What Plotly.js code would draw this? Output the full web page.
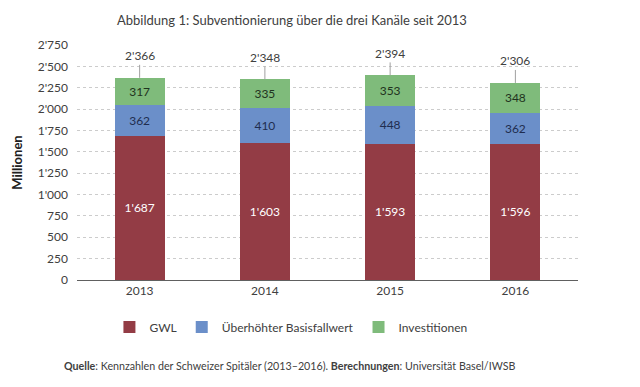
<!DOCTYPE html>
<html>
<head>
<meta charset="utf-8">
<script src="https://cdn.plot.ly/plotly-3.0.1.min.js"></script>
<style>html,body{margin:0;padding:0;background:#fff;}#chart{width:640px;height:387px;}</style>
</head>
<body>
<div id="chart"></div>
<script>
const years = ['2013', '2014', '2015', '2016'];
const gwl = [1687, 1603, 1593, 1596];
const basisfallwert = [362, 410, 448, 362];
const investitionen = [317, 335, 353, 348];
const totals = [2366, 2348, 2394, 2306];
const seriesNames = ['GWL', 'Überhöhter Basisfallwert', 'Investitionen'];
const yTicks = [0, 250, 500, 750, 1000, 1250, 1500, 1750, 2000, 2250, 2500, 2750];

const FONT = 'Lato, "Open Sans", sans-serif';
const colors = ['#933c45', '#6b8fc9', '#7fbb7b'];
const textColors = ['#ffffff', '#1f2d4f', '#1f3320'];

function fmt(v) {
  const s = String(v);
  return s.length > 3 ? s.slice(0, s.length - 3) + "'" + s.slice(s.length - 3) : s;
}

const vals = [gwl, basisfallwert, investitionen];
const traces = vals.map((v, i) => ({
  type: 'bar',
  name: seriesNames[i],
  x: years,
  y: v,
  text: v.map(fmt),
  textposition: 'inside',
  insidetextanchor: 'middle',
  textangle: 0,
  textfont: {family: FONT, size: 12, color: textColors[i]},
  marker: {color: colors[i], line: {width: 0}},
  width: 0.4,
  hoverinfo: 'skip'
}));

const annotations = totals.map((t, i) => ({
  x: i, y: t, xref: 'x', yref: 'y',
  text: fmt(t), showarrow: true, arrowhead: 0, arrowwidth: 1,
  arrowcolor: '#a0a0a0', ax: 0, ay: -22,
  font: {family: FONT, size: 12, color: '#404040'}
}));
annotations.push({
  xref: 'paper', yref: 'paper', x: -0.03, y: -0.362, xanchor: 'left', yanchor: 'middle',
  showarrow: false, align: 'left',
  text: '<b>Quelle</b>: Kennzahlen der Schweizer Spitäler (2013–2016). <b>Berechnungen</b>: Universität Basel/IWSB',
  font: {family: FONT, size: 10.7, color: '#404040'}
});

const layout = {
  width: 640, height: 387,
  margin: {l: 77, r: 62, t: 45, b: 107},
  paper_bgcolor: '#ffffff', plot_bgcolor: '#ffffff',
  barmode: 'stack',
  showlegend: true,
  title: {
    text: 'Abbildung 1: Subventionierung über die drei Kanäle seit 2013',
    x: 117 / 640, xanchor: 'left', xref: 'container', y: 1 - 20 / 387, yanchor: 'middle',
    font: {family: FONT, size: 13, color: '#404040'}
  },
  xaxis: {
    type: 'category',
    categoryorder: 'array', categoryarray: years,
    range: [-0.5, 3.5],
    showgrid: false, zeroline: false,
    showline: true, linecolor: '#606060', linewidth: 1,
    ticks: '',
    tickfont: {family: FONT, size: 12, color: '#404040'}
  },
  yaxis: {
    range: [0, 2750],
    tickvals: yTicks,
    ticktext: yTicks.map(fmt),
    showgrid: true, gridcolor: '#cccccc', griddash: 'dot', gridwidth: 1,
    zeroline: false, showline: false,
    ticks: '', ticklabelstandoff: 8,
    tickfont: {family: FONT, size: 12, color: '#404040'},
    title: {text: '<b>Millionen</b>', standoff: 12, font: {family: FONT, size: 13, color: '#202020'}}
  },
  legend: {
    orientation: 'h', x: 0.427, xanchor: 'center', y: -0.2, yanchor: 'middle',
    font: {family: FONT, size: 12, color: '#404040'},
    traceorder: 'normal', itemwidth: 30
  },
  annotations: annotations
};

Plotly.newPlot('chart', traces, layout, {displayModeBar: false, staticPlot: true});
</script>
</body>
</html>
